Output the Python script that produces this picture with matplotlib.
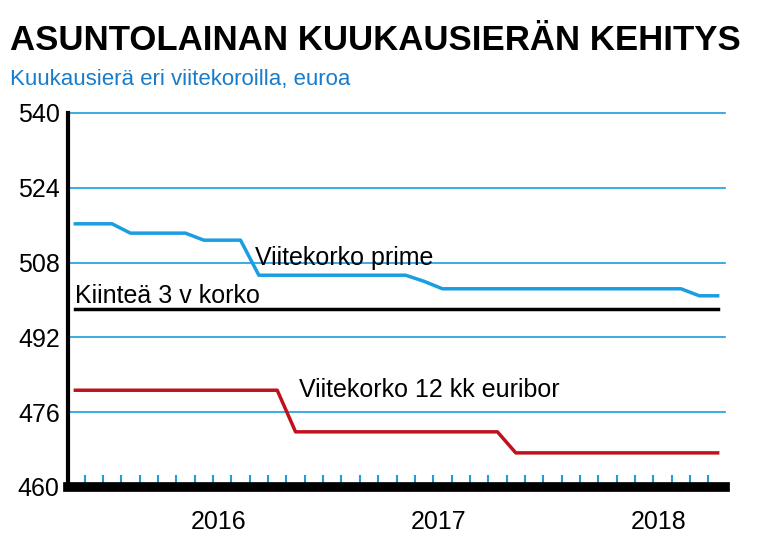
import matplotlib.pyplot as plt
import numpy as np

plt.rcParams['font.family'] = ['Liberation Sans Narrow', 'Liberation Sans', 'DejaVu Sans']

BLUE = '#1a9ee0'
RED = '#c0121c'

prime = [516.3]*3 + [514.3]*4 + [512.8]*3 + [505.3]*9 + [504.0] + [502.4]*14 + [500.9]*2
euribor = [480.7]*12 + [471.8]*12 + [467.3]*12
fixed = [498.1]*36
months = np.arange(36)

yticks = [460, 476, 492, 508, 524, 540]
year_pos = [7.8, 19.8, 31.8]
year_labels = ['2016', '2017', '2018']

fig = plt.figure(figsize=(7.7, 5.44), dpi=100)
ax = fig.add_axes([68/770, 1-487/544, (725-68)/770, (487-113)/544])

ax.plot(months, prime, color=BLUE, lw=2.5)
ax.plot(months, fixed, color='black', lw=2.5)
ax.plot(months, euribor, color=RED, lw=2.5)

ax.text(9.8, 506.5, 'Viitekorko prime', fontsize=18, ha='left', va='bottom')
ax.text(0, 498.3, 'Kiinteä 3 v korko', fontsize=18, ha='left', va='bottom')
ax.text(12.2, 478.2, 'Viitekorko 12 kk euribor', fontsize=18, ha='left', va='bottom')

ax.set_xlim(-0.4, 35.4)
ax.set_ylim(460, 540)
ax.set_yticks(yticks)
ax.set_yticklabels([str(v) for v in yticks], fontsize=18)
for v in yticks[1:]:
    ax.axhline(v, color=BLUE, lw=1.2, zorder=0, clip_on=False)
ax.tick_params(axis='y', length=0, pad=6)

ax.set_xticks(np.arange(0.5, 35.5, 1))
ax.set_xticklabels([])
ax.tick_params(axis='x', direction='in', length=9, color=BLUE, width=1.5)
for p, l in zip(year_pos, year_labels):
    ax.text(p, 455, l, fontsize=18, ha='center', va='top')

ax.spines['top'].set_visible(False)
ax.spines['right'].set_visible(False)
ax.spines['left'].set_linewidth(3)
ax.spines['bottom'].set_linewidth(7)

fig.text(10/770, 1-40/544, 'ASUNTOLAINAN KUUKAUSIERÄN KEHITYS', fontsize=25, fontweight='bold', va='center', ha='left')
fig.text(10/770, 1-80/544, 'Kuukausierä eri viitekoroilla, euroa', fontsize=16, color='#1a7cc8', va='center', ha='left')

fig.savefig('out.png', dpi=100)
